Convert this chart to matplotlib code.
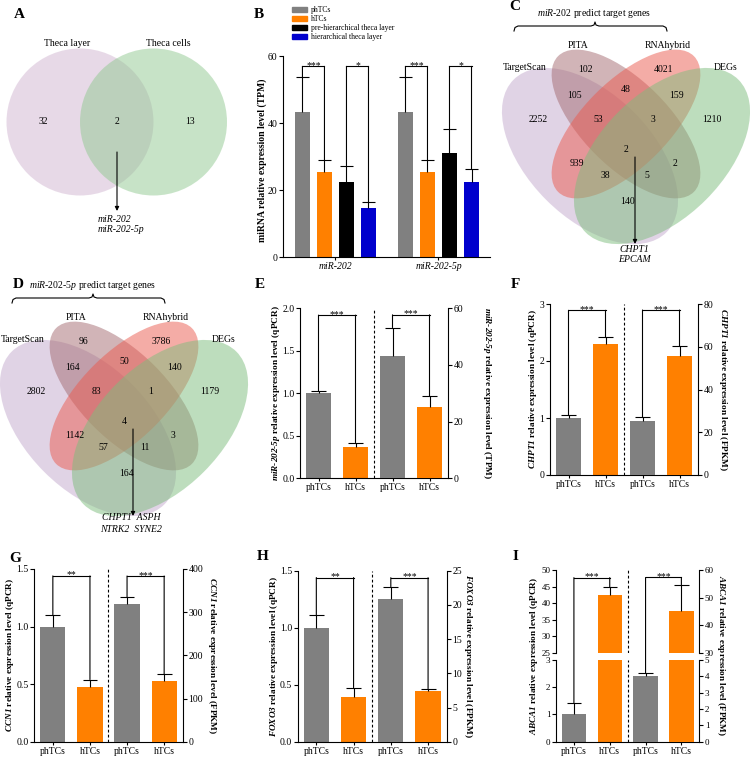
import numpy as np
import matplotlib.pyplot as plt
from matplotlib.patches import Ellipse, Circle, ConnectionPatch, Patch

plt.rcParams['font.family'] = 'Liberation Serif'
plt.rcParams['mathtext.fontset'] = 'custom'
plt.rcParams['mathtext.rm'] = 'Liberation Serif'
plt.rcParams['mathtext.it'] = 'Liberation Serif:italic'
plt.rcParams['mathtext.bf'] = 'Liberation Serif:bold'
plt.rcParams['mathtext.bfit'] = 'Liberation Serif:italic:bold'
plt.rcParams['axes.linewidth'] = 0.8
plt.rcParams['xtick.major.width'] = 0.8
plt.rcParams['ytick.major.width'] = 0.8
plt.rcParams['xtick.labelsize'] = 7
plt.rcParams['ytick.labelsize'] = 7

GREY, ORANGE = '#808080', '#ff8000'
HY = '\u2010'  # hyphen that mathtext keeps as a hyphen

# ---------------- data ----------------
venn_a_sets = ['Theca layer', 'Theca cells']
venn_a_counts = [32, 2, 13]
venn_a_shared = ['miR-202', 'miR-202-5p']

venn_sets = ['TargetScan', 'PITA', 'RNAhybrid', 'DEGs']
venn_c_counts = [102, 4021, 105, 48, 159, 2252, 53, 3, 1210, 2, 939, 38, 5, 2, 140]
venn_c_shared = ['CHPT1', 'EPCAM']
venn_d_counts = [96, 3786, 164, 50, 140, 2802, 83, 1, 1179, 4, 1142, 57, 11, 3, 164]
venn_d_shared = ['CHPT1  ASPH', 'NTRK2  SYNE2']

b_groups = ['miR-202', 'miR-202-5p']
b_series = ['phTCs', 'hTCs', 'pre-hierarchical theca layer', 'hierarchical theca layer']
b_mean = [[43.3, 25.3, 22.4, 14.8], [43.3, 25.3, 31.2, 22.3]]
b_err = [[10.3, 3.7, 4.9, 1.7], [10.3, 3.7, 7.0, 4.1]]
b_sig = ['***', '*']

cells = ['phTCs', 'hTCs']
genes = ['miR-202-5p', 'CHPT1', 'CCN1', 'FOXO3', 'ABCA1']
seq_unit = ['TPM', 'FPKM', 'FPKM', 'FPKM', 'FPKM']
qpcr_mean = [[1.0, 0.374], [1.0, 2.30], [1.0, 0.478], [1.0, 0.392], [1.0, 42.6]]
qpcr_err = [[0.03, 0.046], [0.05, 0.12], [0.10, 0.062], [0.109, 0.082], [0.43, 2.3]]
seq_mean = [[43.05, 25.3], [25.4, 55.7], [319, 140.6], [20.8, 7.41], [4.05, 45.2]]
seq_err = [[10.15, 3.7], [1.6, 4.7], [15.5, 16.2], [1.86, 0.34], [0.14, 9.2]]
qpcr_sig = ['***', '***', '**', '**', '***']
seq_sig = ['***', '***', '***', '***', '***']

# ---------------- figure in pixel layout ----------------
W, H = 750, 758
fig = plt.figure(figsize=(7.5, 7.58), dpi=100)


def px_axes(l, t, r, b):
    return fig.add_axes([l / W, 1 - b / H, (r - l) / W, (b - t) / H])


ov = px_axes(0, 0, W, H)
ov.set_xlim(0, W)
ov.set_ylim(H, 0)
ov.axis('off')


def letter(s, x, y):
    ov.text(x, y, s, fontsize=11, fontweight='bold', ha='center', va='center')


def arrow(x, y0, y1):
    ov.annotate('', xy=(x, y1), xytext=(x, y0),
                arrowprops=dict(arrowstyle='-|>', color='k', lw=0.8, mutation_scale=6,
                                shrinkA=0, shrinkB=0))


def brace(x0, x1, xm, y):
    xs = [x0, x0 + 1, x0 + 4, xm - 4, xm - 1, xm, xm + 1, xm + 4, x1 - 4, x1 - 1, x1]
    ys = [y + 5, y + 1.5, y, y, y - 1, y - 4, y - 1, y, y, y + 1.5, y + 5]
    ov.plot(xs, ys, color='k', lw=0.8)


# ---- A ----
letter('A', 19, 14)
ov.add_patch(Circle((80, 122), 73.5, fc='#d1b5d1', alpha=0.5, ec='none'))
ov.add_patch(Circle((153.5, 122), 73.5, fc='#91c991', alpha=0.5, ec='none'))
for s, x in zip(venn_a_sets, [67, 168]):
    ov.text(x, 43, s, fontsize=7, ha='center', va='center')
for n, x in zip(venn_a_counts, [43, 117, 190]):
    ov.text(x, 122, str(n), fontsize=7, ha='center', va='center')
arrow(117, 152, 211)
for s, y in zip(venn_a_shared, [219, 229]):
    ov.text(98, y, s, fontsize=7, style='italic', ha='left', va='center')

# ---- C and D (four-set Venn) ----
venn_cols = ['#c3a9cd', '#a46a70', '#eb5a4e', '#7dbd7d']
venn_geo = [((590, 156), 216, 124, 45), ((626, 124), 192, 86, 45),
            ((626, 124), 192, 86, -45), ((662, 156), 216, 124, -45)]
venn_num_pos = [(585, 69), (663, 69), (575, 96), (626, 90), (677, 96), (538, 120), (598, 120),
                (653, 120), (712, 120), (626, 150), (577, 164), (605, 175), (647, 175),
                (675, 164), (628, 201)]
venn_lab_pos = [(525, 67), (578, 45), (668, 45), (726, 67)]


def venn4(dx, dy, counts, mir, shared):
    for c, (xy, w, h, a) in zip(venn_cols, venn_geo):
        ov.add_patch(Ellipse((xy[0] + dx, xy[1] + dy), w, h, angle=a,
                             fc=c, alpha=0.5, ec='none'))
    for n, (x, y) in zip(counts, venn_num_pos):
        ov.text(x + dx, y + dy, str(n), fontsize=7, ha='center', va='center')
    for s, (x, y) in zip(venn_sets, venn_lab_pos):
        ov.text(x + dx, y + dy, s, fontsize=7, ha='center', va='center')
    ov.text(594 + dx, 14 + dy, '$\\mathit{' + mir.replace('-', HY) + '}$ predict target genes',
            fontsize=7, ha='center', va='center')
    brace(514 + dx, 667 + dx, 595 + dx, 26 + dy)
    arrow(635 + dx, 157 + dy, 244 + dy)


letter('C', 515, 7)
venn4(0, 0, venn_c_counts, 'miR-202', venn_c_shared)
for s, y in zip(venn_c_shared, [249, 260]):
    ov.text(634, y, s, fontsize=7, style='italic', ha='center', va='center')

letter('D', 18, 285)
venn4(-502, 272, venn_d_counts, 'miR-202-5p', venn_d_shared)
for s, y in zip(venn_d_shared, [518, 530]):
    ov.text(131, y, s, fontsize=7, style='italic', ha='center', va='center')


# ---------------- helpers for bar panels ----------------
def bars(ax, xs, means, errs, colors, width, cap):
    ax.bar(xs, means, width, color=colors, zorder=2)
    tops = [m + e for m, e in zip(means, errs)]
    ax.vlines(xs, means, tops, color='k', lw=0.8, zorder=3)
    ax.hlines(tops, [x - cap for x in xs], [x + cap for x in xs], color='k', lw=0.8, zorder=3)
    return tops


def bracket(ax1, x1, y1, ax2, x2, y2, axt, yt, label):
    for a, x, y in ((ax1, x1, y1), (ax2, x2, y2)):
        fig.add_artist(ConnectionPatch((x, y), (x, yt), coordsA=a.transData,
                                       coordsB=axt.transData, color='k', lw=0.8))
    axt.plot([x1, x2], [yt, yt], color='k', lw=0.8, clip_on=False)
    axt.annotate(label, ((x1 + x2) / 2, yt), xytext=(0, -1.2), textcoords='offset points',
                 ha='center', va='baseline', fontsize=7, annotation_clip=False)


def style_pair(ax, axr):
    ax.spines['top'].set_visible(False)
    ax.spines['right'].set_visible(False)
    for s in ['top', 'left', 'bottom']:
        axr.spines[s].set_visible(False)
    ax.tick_params(axis='y', length=3, pad=1)
    axr.tick_params(axis='y', length=3, pad=1)
    ax.tick_params(axis='x', length=2, pad=1.5)


def ylabels(i, xl, xr, yc, fs=6.7):
    g = genes[i].replace('-', HY)
    ov.text(xl, yc, '$\\mathbfit{' + g + '}$ relative expression level (qPCR)',
            rotation=90, fontsize=fs, fontweight='bold', ha='center', va='center')
    ov.text(xr, yc, '$\\mathbfit{' + g + '}$ relative expression level (' + seq_unit[i] + ')',
            rotation=270, fontsize=fs, fontweight='bold', ha='center', va='center')


# ---- B ----
letter('B', 259, 14)
axB = px_axes(283.3, 56, 490, 257.3)
b_colors = [GREY, ORANGE, '#000000', '#0000cd']
b_centers = [0, 4.68]
b_off = [-1.5, -0.5, 0.5, 1.5]
for g, c in enumerate(b_centers):
    xs = [c + o for o in b_off]
    tops = bars(axB, xs, b_mean[g], b_err[g], b_colors, 0.68, 0.3)
    bracket(axB, xs[0], tops[0], axB, xs[1], tops[1], axB, 56.9, b_sig[0])
    bracket(axB, xs[2], tops[2], axB, xs[3], tops[3], axB, 56.9, b_sig[1])
axB.set_xlim(-2.37, 7.02)
axB.set_ylim(0, 60)
axB.set_yticks([0, 20, 40, 60])
axB.set_xticks(b_centers)
axB.set_xticklabels(b_groups, style='italic')
axB.spines['top'].set_visible(False)
axB.spines['right'].set_visible(False)
axB.tick_params(axis='y', length=3, pad=1)
axB.tick_params(axis='x', length=2, pad=1.5)
ov.text(262, 160, 'miRNA relative expression level (TPM)', rotation=90, fontsize=7,
        fontweight='bold', ha='center', va='center')
axB.legend([Patch(color=c) for c in b_colors], b_series, loc='upper left',
           bbox_to_anchor=(292 / W, 1 - 6 / H), bbox_transform=fig.transFigure,
           frameon=False, fontsize=5.5, handlelength=2.0, handleheight=0.7,
           labelspacing=0.15, handletextpad=0.5, borderpad=0, borderaxespad=0)

# ---- E, F, G, H ----
panel_layout = [
    dict(letter=('E', 260, 285), box=(300, 308.3, 448, 478.3),
         lim_l=(0, 2), tk_l=[0, 0.5, 1.0, 1.5, 2.0], fmt='%.1f', lim_r=(0, 60), tk_r=[0, 20, 40, 60],
         brk=(1.92, 57.7), lab=(276, 487)),
    dict(letter=('F', 515, 285), box=(550, 304, 698, 475),
         lim_l=(0, 3), tk_l=[0, 1, 2, 3], fmt='%d', lim_r=(0, 80), tk_r=[0, 20, 40, 60, 80],
         brk=(2.89, 77.2), lab=(533, 723)),
    dict(letter=('G', 15, 558), box=(34.3, 569, 182.7, 741.7),
         lim_l=(0, 1.5), tk_l=[0, 0.5, 1.0, 1.5], fmt='%.1f', lim_r=(0, 400),
         tk_r=[0, 100, 200, 300, 400], brk=(1.44, 383.8), lab=(10.5, 212)),
    dict(letter=('H', 263, 557), box=(297.7, 570.7, 446.7, 741.7),
         lim_l=(0, 1.5), tk_l=[0, 0.5, 1.0, 1.5], fmt='%.1f', lim_r=(0, 25),
         tk_r=[0, 5, 10, 15, 20, 25], brk=(1.44, 23.98), lab=(274, 468.5)),
]
xs = [0.5, 1.5, 2.5, 3.5]

for i, p in enumerate(panel_layout):
    letter(*p['letter'])
    l, t, r, b = p['box']
    ax = px_axes(l, t, r, b)
    axr = ax.twinx()
    tl = bars(ax, xs[:2], qpcr_mean[i], qpcr_err[i], [GREY, ORANGE], 0.68, 0.2)
    tr = bars(axr, xs[2:], seq_mean[i], seq_err[i], [GREY, ORANGE], 0.68, 0.2)
    ax.set_xlim(0, 4)
    ax.set_ylim(*p['lim_l'])
    axr.set_ylim(*p['lim_r'])
    ax.set_yticks(p['tk_l'])
    ax.set_yticklabels([p['fmt'] % v for v in p['tk_l']])
    axr.set_yticks(p['tk_r'])
    ax.set_xticks(xs)
    ax.set_xticklabels(cells * 2)
    ax.axvline(2.0, color='k', lw=0.8, ls=(0, (2.5, 2)))
    style_pair(ax, axr)
    bracket(ax, xs[0], tl[0], ax, xs[1], tl[1], ax, p['brk'][0], qpcr_sig[i])
    bracket(axr, xs[2], tr[0], axr, xs[3], tr[1], axr, p['brk'][1], seq_sig[i])
    ylabels(i, p['lab'][0], p['lab'][1], (t + b) / 2)

# ---- I (broken axis) ----
letter('I', 515, 557)
lo = px_axes(556, 660, 699.3, 741.7)
hi = px_axes(556, 570, 699.3, 653)
lor = lo.twinx()
hir = hi.twinx()
for a, ar in ((lo, lor), (hi, hir)):
    tl = bars(a, xs[:2], qpcr_mean[4], qpcr_err[4], [GREY, ORANGE], 0.68, 0.2)
    tr = bars(ar, xs[2:], seq_mean[4], seq_err[4], [GREY, ORANGE], 0.68, 0.2)
    a.set_xlim(0, 4)
    a.axvline(2.0, color='k', lw=0.8, ls=(0, (2.5, 2)))
    style_pair(a, ar)
lo.set_ylim(0, 3)
lo.set_yticks([0, 1, 2, 3])
lor.set_ylim(0, 5)
lor.set_yticks([0, 1, 2, 3, 4, 5])
hi.set_ylim(25, 50)
hi.set_yticks([25, 30, 35, 40, 45, 50])
hir.set_ylim(30, 60)
hir.set_yticks([30, 40, 50, 60])
for a in (lo, hi, lor, hir):
    a.tick_params(axis='y', labelsize=6.5)
hi.spines['bottom'].set_visible(False)
hi.tick_params(axis='x', bottom=False, labelbottom=False)
lo.set_xticks(xs)
lo.set_xticklabels(cells * 2)
bracket(lo, xs[0], tl[0], hi, xs[1], tl[1], hi, 47.7, qpcr_sig[4])
bracket(lor, xs[2], tr[0], hir, xs[3], tr[1], hir, 57.3, seq_sig[4])
ylabels(4, 534, 721, (570 + 741.7) / 2, fs=6.6)

fig.savefig('out.png', dpi=100)
